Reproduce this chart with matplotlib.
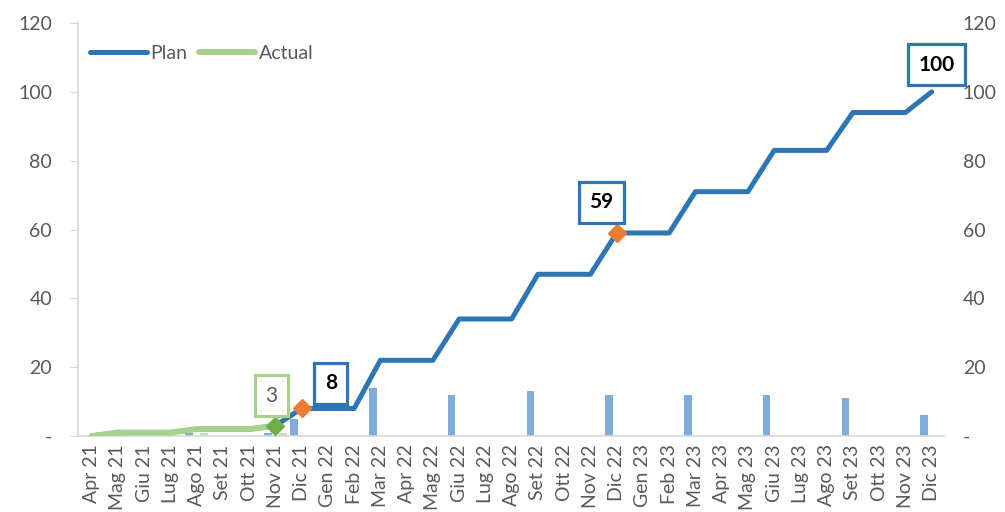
import numpy as np
import matplotlib.pyplot as plt
from matplotlib.ticker import FuncFormatter

plt.rcParams['font.family'] = ['Lato', 'DejaVu Sans']

months = [
    'Apr 21', 'Mag 21', 'Giu 21', 'Lug 21', 'Ago 21', 'Set 21', 'Ott 21', 'Nov 21', 'Dic 21',
    'Gen 22', 'Feb 22', 'Mar 22', 'Apr 22', 'Mag 22', 'Giu 22', 'Lug 22', 'Ago 22', 'Set 22',
    'Ott 22', 'Nov 22', 'Dic 22', 'Gen 23', 'Feb 23', 'Mar 23', 'Apr 23', 'Mag 23', 'Giu 23',
    'Lug 23', 'Ago 23', 'Set 23', 'Ott 23', 'Nov 23', 'Dic 23',
]
# cumulative progress (%)
plan = [0, 1, 1, 1, 2, 2, 2, 3, 8, 8, 8, 22, 22, 22, 34, 34, 34, 47, 47, 47,
        59, 59, 59, 71, 71, 71, 83, 83, 83, 94, 94, 94, 100]
actual = [0, 1, 1, 1, 2, 2, 2, 3]
# monthly increments
plan_month = [0, 1, 0, 0, 1, 0, 0, 1, 5, 0, 0, 14, 0, 0, 12, 0, 0, 13, 0, 0,
              12, 0, 0, 12, 0, 0, 12, 0, 0, 11, 0, 0, 6]
actual_month = [0, 1, 0, 0, 1, 0, 0, 1]

C_PLAN = '#2E75B6'
C_ACT = '#A9D18E'
C_GRAY = '#595959'
C_AXIS = '#D9D9D9'
FS = 14

x = np.arange(len(months))
xa = np.arange(len(actual))
w = 1 / 3.5

fig = plt.figure(figsize=(10.05, 5.12), dpi=100)
ax = fig.add_axes([0.0781, 0.1484, 0.862, 0.8066])

ax.bar(x - w, plan_month, width=w, color='#7FACD8', zorder=1)
ax.bar(xa + w, actual_month, width=w, color='#C5E0B4', zorder=1)

ax.plot(x, plan, color=C_PLAN, lw=3.6, solid_capstyle='round',
        solid_joinstyle='round', zorder=3, label='Plan')
ax.plot(xa, actual, color=C_ACT, lw=4.3, solid_capstyle='round',
        solid_joinstyle='round', zorder=4, label='Actual')

# highlighted points
ax.plot(xa[-1], actual[-1], 'D', color='#70AD47', ms=9, zorder=5)
for i in (8, 20):
    ax.plot(x[i], plan[i], 'D', color='#ED7D31', ms=9, zorder=5)


def boxed(i, val, dx, dy, edge, bold=True, color='black'):
    ax.annotate(f'{val}', xy=(i, val), xytext=(dx, dy), textcoords='offset points',
                ha='center', va='center', fontsize=15,
                fontweight='bold' if bold else 'normal', color=color, zorder=6,
                bbox=dict(boxstyle='square,pad=0.5', fc='white', ec=edge, lw=2.3))


boxed(xa[-1], actual[-1], -3, 21.5, C_ACT, bold=False, color=C_GRAY)
boxed(8, plan[8], 21, 18, C_PLAN)
boxed(20, plan[20], -11, 22, C_PLAN)
boxed(32, plan[32], 3.6, 19.5, C_PLAN)

ax.set_xlim(-0.5, len(months) - 0.5)
ax.set_ylim(0, 120)
ax.set_yticks(np.arange(0, 121, 20))
fmt = FuncFormatter(lambda v, p: '-' if v == 0 else f'{v:.0f}')
ax.yaxis.set_major_formatter(fmt)
ax.set_xticks(x)
ax.set_xticklabels(months, rotation=90)
ax.tick_params(axis='x', length=0, pad=6, labelsize=FS, colors=C_GRAY)
ax.tick_params(axis='y', length=6, color=C_AXIS, pad=13, labelsize=FS, labelcolor=C_GRAY)
for s in ('top', 'right'):
    ax.spines[s].set_visible(False)
for s in ('left', 'bottom'):
    ax.spines[s].set_color(C_AXIS)
    ax.spines[s].set_linewidth(1.2)

ax2 = ax.twinx()
ax2.set_ylim(0, 120)
ax2.set_yticks(np.arange(0, 121, 20))
ax2.yaxis.set_major_formatter(fmt)
ax2.tick_params(axis='y', length=0, pad=13, labelsize=FS, labelcolor=C_GRAY)
for s in ax2.spines.values():
    s.set_visible(False)

leg = ax.legend(loc='upper left', bbox_to_anchor=(0.0, 0.975), ncol=2, frameon=False,
                fontsize=FS, handlelength=2.9, handletextpad=0.2, columnspacing=0.6,
                borderaxespad=0.2)
for t in leg.get_texts():
    t.set_color(C_GRAY)
for h in leg.get_lines():
    h.set_solid_capstyle('round')

fig.savefig('out.png', dpi=100)
